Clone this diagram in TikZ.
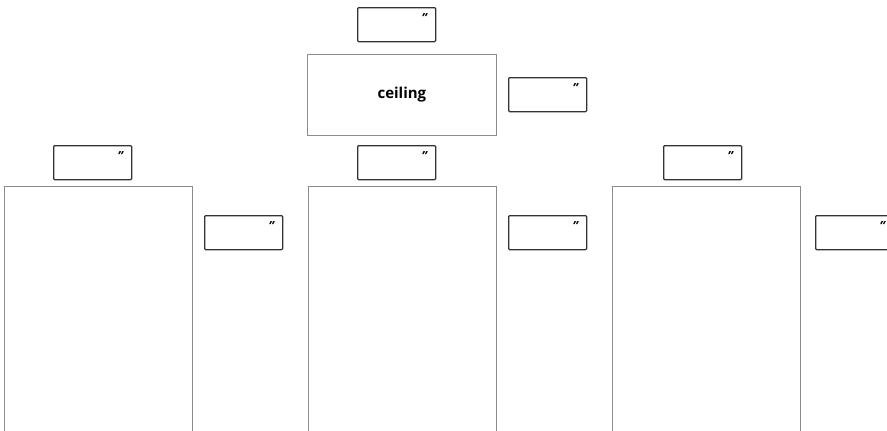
\documentclass[tikz,border=0pt]{standalone}
\usepackage{fontspec}
\setmainfont{Open Sans}
\begin{document}
\begin{tikzpicture}[x=1pt,y=-1pt,
  tag/.style={draw=black!80,line width=1.3pt,rounded corners=1pt,minimum width=78pt,minimum height=34pt,inner sep=0pt,anchor=north west},
  quotemark/.style={font=\bfseries\itshape\fontsize{12.5}{12.5}\selectfont,inner sep=0pt},
  wall/.style={draw=black!45,line width=0.8pt}]
\useasboundingbox (0,0) rectangle (887,431);
% ceiling
\node[wall,draw,minimum width=189pt,minimum height=81pt,anchor=north west,inner sep=0pt,
  font=\bfseries\fontsize{15}{15}\selectfont] (ceil) at (307,54) {ceiling};
% tall rooms (open at bottom)
\draw[wall] (4,431) -- (4,186) -- (192,186) -- (192,431);
\draw[wall] (308,431) -- (308,186) -- (496,186) -- (496,431);
\draw[wall] (612,431) -- (612,186) -- (800,186) -- (800,431);
% tag boxes
\foreach \n/\x/\y in {t0/357/7, t1/508/77, t2/53/145, t3/357/145, t4/663/145, t5/204/215, t6/508/215, t7/815/215}{
  \node[tag] (\n) at (\x,\y) {};
  \node[quotemark] (\n q) at ([xshift=-12pt,yshift=-11pt]\n.north east) {"};
}
\end{tikzpicture}
\end{document}
